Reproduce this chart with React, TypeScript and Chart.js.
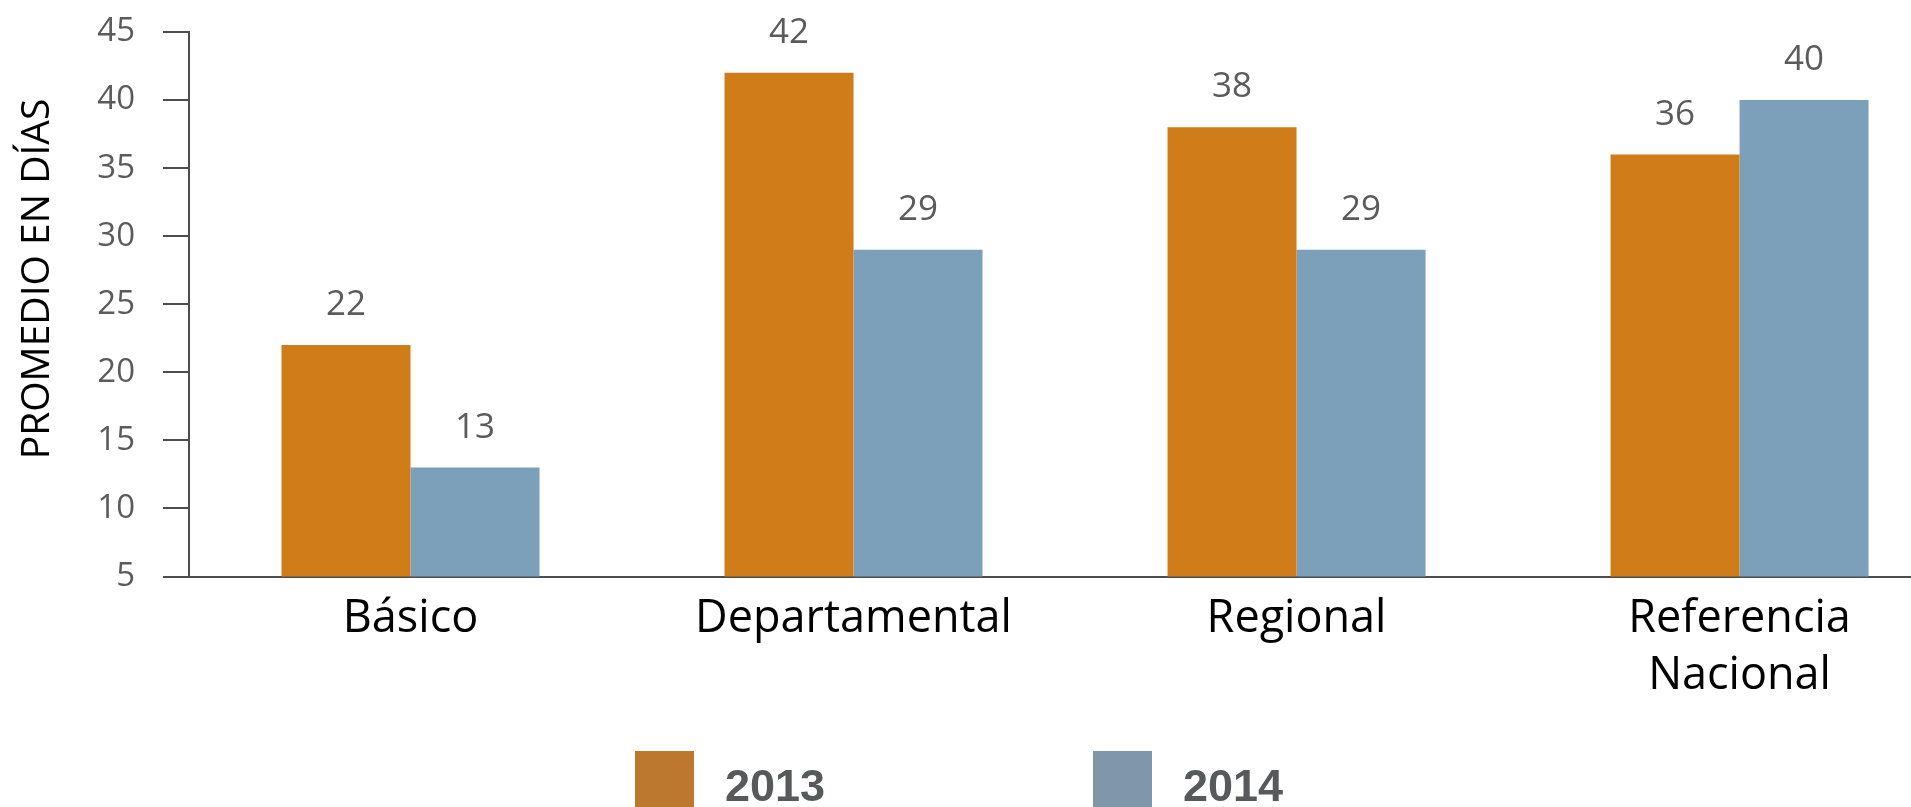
import React, { useEffect, useRef } from "react";
import { Chart, registerables } from "chart.js";

Chart.register(...registerables);

// ---- Data ----
const categories: (string | string[])[] = ["Básico", "Departamental", "Regional", ["Referencia", "Nacional"]];
const seriesNames = ["2013", "2014"];
const values2013 = [22, 42, 38, 36];
const values2014 = [13, 29, 29, 40];
const yTickValues = [5, 10, 15, 20, 25, 30, 35, 40, 45];
const yTitle = "PROMEDIO EN DÍAS";

// ---- Styles ----
const barColors = ["#D07C18", "#7CA0BA"];
const legendColors = ["#BC782E", "#7F96AB"];
const axisColor = "#4d4d4d";
const tickColor = "#5b5b5b";

const valueLabelPlugin = {
  id: "valueLabels",
  afterDatasetsDraw(chart: any) {
    const ctx = chart.ctx;
    ctx.save();
    ctx.font = "35px 'Open Sans'";
    ctx.fillStyle = tickColor;
    ctx.textAlign = "center";
    ctx.textBaseline = "alphabetic";
    chart.data.datasets.forEach((ds: any, di: number) => {
      const meta = chart.getDatasetMeta(di);
      meta.data.forEach((bar: any, i: number) => {
        const v = ds.data[i].y;
        ctx.fillText(String(v), bar.x, bar.y - 30);
      });
    });
    ctx.restore();
  },
};

export default function App() {
  const canvasRef = useRef<HTMLCanvasElement | null>(null);

  useEffect(() => {
    let chart: Chart | null = null;
    let cancelled = false;
    const make = () => {
      if (cancelled || !canvasRef.current) return;
      chart = new Chart(canvasRef.current, {
        type: "bar",
        data: {
          datasets: [values2013, values2014].map((vals, si) => ({
            label: seriesNames[si],
            data: vals.map((v, i) => ({ x: i, y: v })),
            backgroundColor: barColors[si],
            borderWidth: 0,
            categoryPercentage: 0.5824,
            barPercentage: 1,
          })),
        } as any,
        options: {
          animation: false,
          responsive: true,
          maintainAspectRatio: false,
          layout: { padding: { top: 32, right: 0, bottom: 88, left: 0 } },
          plugins: { legend: { display: false }, tooltip: { enabled: false } },
          scales: {
            x: {
              type: "linear",
              offset: false,
              min: -0.5,
              max: 3.387,
              afterBuildTicks: (s: any) => {
                s.ticks = categories.map((_, i) => ({ value: i }));
              },
              ticks: {
                callback: (v: any) => categories[v as number] as any,
                font: { family: "'Open Sans'", size: 45, lineHeight: 1.25 },
                color: "#000",
                padding: 15,
                maxRotation: 0,
                autoSkip: false,
              },
              grid: { display: true, drawOnChartArea: false, drawTicks: false },
              border: { display: true, color: axisColor, width: 2 },
            },
            y: {
              min: 5,
              max: 45,
              afterBuildTicks: (s: any) => {
                s.ticks = yTickValues.map((v) => ({ value: v }));
              },
              afterFit: (s: any) => {
                s.width = 189;
                s.paddingTop = 0;
                s.paddingBottom = 0;
              },
              ticks: {
                font: { family: "'Open Sans'", size: 33 },
                color: tickColor,
                padding: 28,
              },
              grid: { drawOnChartArea: false, tickLength: 26, color: axisColor, lineWidth: 2 },
              border: { display: true, color: axisColor, width: 2 },
              title: {
                display: true,
                text: "     " + yTitle,
                font: { family: "'Open Sans'", size: 39 },
                color: "#000",
                padding: { top: 14, bottom: 0 },
              },
            },
          },
        } as any,
        plugins: [valueLabelPlugin],
      });
    };
    const fonts = (document as any).fonts;
    if (fonts && fonts.load) {
      Promise.all([
        fonts.load("35px 'Open Sans'"),
        fonts.load("45px 'Open Sans'"),
        fonts.load("bold 45px 'Liberation Sans'"),
      ])
        .catch(() => {})
        .then(make);
    } else {
      make();
    }
    return () => {
      cancelled = true;
      if (chart) chart.destroy();
    };
  }, []);

  return (
    <div
      style={{
        position: "fixed",
        left: 0,
        top: 0,
        width: 1911,
        height: 807,
        background: "#fff",
        overflow: "hidden",
      }}
    >
      <div style={{ position: "absolute", left: 0, top: 0, width: 1911, height: 807 }}>
        <canvas ref={canvasRef} />
      </div>
      <div
        style={{
          position: "absolute",
          left: 0,
          top: 751,
          width: 1911,
          paddingLeft: 7,
          boxSizing: "border-box",
          display: "flex",
          justifyContent: "center",
        }}
      >
        {seriesNames.map((name, i) => (
          <div key={name} style={{ display: "flex", alignItems: "flex-start", marginLeft: i ? 268 : 0 }}>
            <div style={{ width: 59, height: 59, background: legendColors[i] }} />
            <span
              style={{
                marginLeft: 31,
                marginTop: 12,
                font: "bold 45px 'Liberation Sans', Arial, sans-serif",
                lineHeight: "45px",
                color: "#58595B",
              }}
            >
              {name}
            </span>
          </div>
        ))}
      </div>
    </div>
  );
}
